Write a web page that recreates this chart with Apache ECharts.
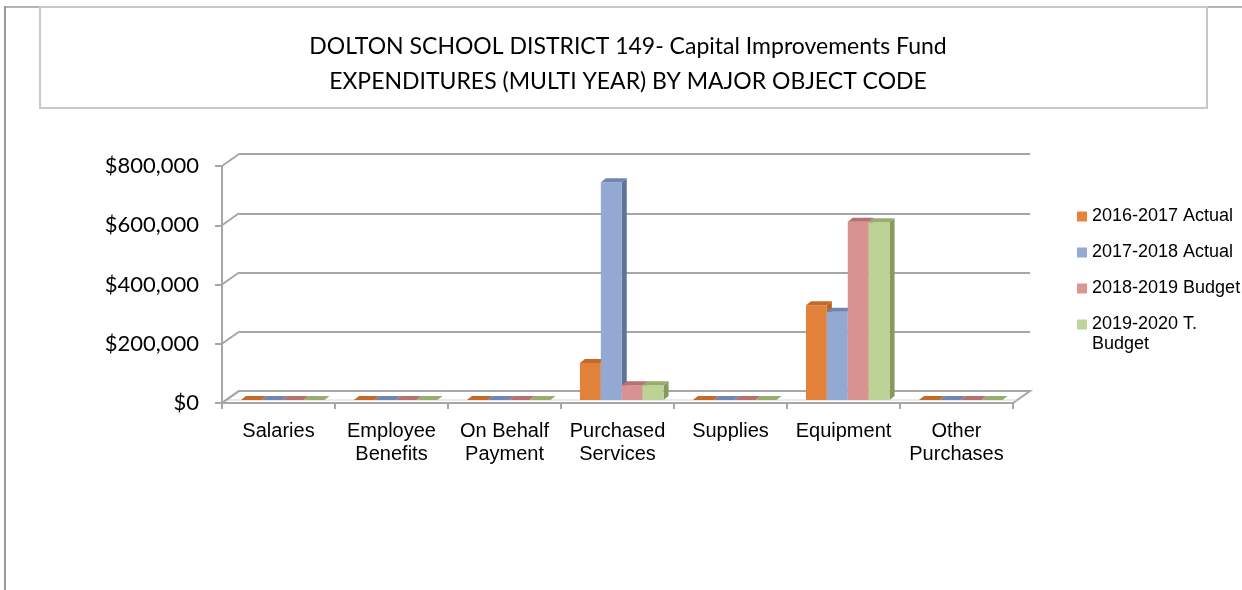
<!DOCTYPE html>
<html>
<head>
<meta charset="utf-8">
<script src="https://cdn.jsdelivr.net/npm/echarts@6/dist/echarts.min.js"></script>
<style>
html,body{margin:0;padding:0;background:#fff;}
#chart{width:1242px;height:590px;}
</style>
</head>
<body>
<div id="chart"></div>
<script>
const titleLines = ['DOLTON SCHOOL DISTRICT 149- Capital Improvements Fund', 'EXPENDITURES (MULTI YEAR) BY MAJOR OBJECT CODE'];
const categories = ['Salaries', 'Employee\nBenefits', 'On Behalf\nPayment', 'Purchased\nServices', 'Supplies', 'Equipment', 'Other\nPurchases'];
const seriesNames = ['2016-2017 Actual', '2017-2018 Actual', '2018-2019 Budget', '2019-2020 T. Budget'];
const actual1617 = [0, 0, 0, 125000, 0, 320000, 0];
const actual1718 = [0, 0, 0, 735000, 0, 298000, 0];
const budget1819 = [0, 0, 0, 50000, 0, 602000, 0];
const budget1920 = [0, 0, 0, 50000, 0, 600000, 0];
const yTicks = [0, 200000, 400000, 600000, 800000];
const yMax = 800000;
const yInterval = 200000;

const frontColors = ['#E2823A', '#93A9D4', '#D69391', '#BCD297'];
const sideColors  = ['#B8652A', '#5F7499', '#A66F6D', '#869A5E'];
const topColors   = ['#C46A26', '#6F86B2', '#B8716F', '#98AD6C'];
const legendColors = ['#E8843A', '#95A9D4', '#D99694', '#BDD49A'];

const allSeries = [actual1617, actual1718, budget1819, budget1920];

const DX = 17, DY = -12;       // depth offset of back wall
const BD = [5, -4];            // bar depth offset
const GRID_GREY = '#a6a6a6';

function barRender(s) {
  return function (params, api) {
    const i = api.value(0), v = api.value(1);
    const base = api.coord([i, 0]);
    const top = api.coord([i, v]);
    const band = api.size([1, 0])[0];
    const bw = band * 0.185;
    const ox = DX * 0.25, oy = DY * 0.25;
    const x0 = base[0] - 2 * bw + s * bw + ox;
    const x1 = x0 + bw;
    const yb = base[1] + oy;
    const yt = top[1] + oy;
    return {
      type: 'group',
      children: [
        {type: 'polygon', shape: {points: [[x1, yt], [x1 + BD[0], yt + BD[1]], [x1 + BD[0], yb + BD[1]], [x1, yb]]}, style: {fill: sideColors[s]}},
        {type: 'rect', shape: {x: x0, y: yt, width: bw, height: Math.max(yb - yt, 0)}, style: {fill: frontColors[s]}},
        {type: 'polygon', shape: {points: [[x0, yt], [x0 + BD[0], yt + BD[1]], [x1 + BD[0], yt + BD[1]], [x1, yt]]}, style: {fill: topColors[s]}}
      ]
    };
  };
}

const barSeries = allSeries.map((arr, s) => ({
  name: seriesNames[s],
  type: 'custom',
  xAxisIndex: 0,
  yAxisIndex: 0,
  renderItem: barRender(s),
  itemStyle: {color: legendColors[s]},
  encode: {x: 0, y: 1},
  data: arr.map((v, i) => [i, v]),
  z: 5 + s,
  silent: true
}));

const chart = echarts.init(document.getElementById('chart'), null, {renderer: 'canvas'});

const option = {
  backgroundColor: '#ffffff',
  animation: false,
  graphic: [
    {type: 'line', shape: {x1: 5, y1: 7, x2: 1242, y2: 7}, style: {stroke: '#b4b4b4', lineWidth: 2}, z: 0},
    {type: 'line', shape: {x1: 5, y1: 6, x2: 5, y2: 590}, style: {stroke: '#9a9a9a', lineWidth: 2}, z: 0},
    {type: 'rect', shape: {x: 40, y: 7, width: 1167, height: 101}, style: {fill: '#ffffff', stroke: '#c8c8c8', lineWidth: 2}, z: 1},
    {type: 'text', left: 1092, top: 335, style: {text: 'Budget', fontFamily: 'Liberation Sans', fontSize: 18, fill: '#000'}, z: 10}
  ],
  title: {
    text: titleLines.join('\n'),
    left: 623,
    top: 24,
    textAlign: 'center',
    textStyle: {fontFamily: 'Lato', fontSize: 23, fontWeight: 'normal', color: '#000', lineHeight: 35}
  },
  legend: {
    orient: 'vertical',
    left: 1077,
    top: 206,
    padding: 0,
    itemWidth: 10,
    itemHeight: 10,
    itemGap: 15,
    icon: 'rect',
    data: seriesNames.map((n, s) => ({name: n, itemStyle: {color: legendColors[s]}})),
    formatter: function (name) { return name.replace(' T. Budget', ' T.'); },
    textStyle: {fontFamily: 'Liberation Sans', fontSize: 18, color: '#000', lineHeight: 21}
  },
  grid: [
    {left: 222, top: 166, width: 791, height: 237},
    {left: 222 + DX, top: 166 + DY, width: 791, height: 237}
  ],
  xAxis: [
    {
      type: 'category', gridIndex: 0, data: categories, boundaryGap: true,
      axisLine: {show: true, lineStyle: {color: GRID_GREY, width: 2}},
      axisTick: {show: true, length: 6, lineStyle: {color: GRID_GREY, width: 2}},
      axisLabel: {fontFamily: 'Liberation Sans', fontSize: 20, color: '#000', lineHeight: 23, margin: 17, interval: 0}
    },
    {
      type: 'category', gridIndex: 1, data: categories, boundaryGap: true,
      axisLine: {show: false}, axisTick: {show: false}, axisLabel: {show: false}
    }
  ],
  yAxis: [
    {
      type: 'value', gridIndex: 0, min: 0, max: yMax, interval: yInterval,
      axisLine: {show: true, lineStyle: {color: GRID_GREY, width: 2}},
      axisTick: {show: true, length: 7, lineStyle: {color: GRID_GREY, width: 2}},
      splitLine: {show: false},
      axisLabel: {
        fontFamily: 'Lato', fontSize: 22, color: '#000', margin: 23,
        formatter: function (v) { return '$' + v.toLocaleString('en-US'); }
      }
    },
    {
      type: 'value', gridIndex: 1, min: 0, max: yMax, interval: yInterval,
      axisLine: {show: false}, axisTick: {show: false}, axisLabel: {show: false},
      splitLine: {show: true, lineStyle: {color: GRID_GREY, width: 2}}
    }
  ],
  series: [
    {
      type: 'custom', name: 'floor', xAxisIndex: 0, yAxisIndex: 0, silent: true, z: 2,
      data: [[0, 0]],
      renderItem: function (params, api) {
        const cs = params.coordSys;
        const y0 = api.coord([0, 0])[1];
        const xl = cs.x, xr = cs.x + cs.width;
        return {
          type: 'group', children: [
            {type: 'polygon', shape: {points: [[xl, y0], [xl + DX, y0 + DY], [xr + DX, y0 + DY], [xr, y0]]},
              style: {fill: '#ffffff', stroke: GRID_GREY, lineWidth: 2}},
            {type: 'line', shape: {x1: xl + 4, y1: y0 - 3, x2: xr + 4, y2: y0 - 3}, style: {stroke: '#d6d6d6', lineWidth: 1}}
          ]
        };
      }
    },
    {
      type: 'custom', name: 'connectors', xAxisIndex: 0, yAxisIndex: 0, silent: true, z: 2,
      data: yTicks.map(v => [0, v]),
      renderItem: function (params, api) {
        const cs = params.coordSys;
        const y = api.coord([0, api.value(1)])[1];
        return {type: 'line', shape: {x1: cs.x, y1: y, x2: cs.x + DX, y2: y + DY}, style: {stroke: GRID_GREY, lineWidth: 2}};
      }
    }
  ].concat(barSeries)
};
chart.setOption(option);
</script>
</body>
</html>
